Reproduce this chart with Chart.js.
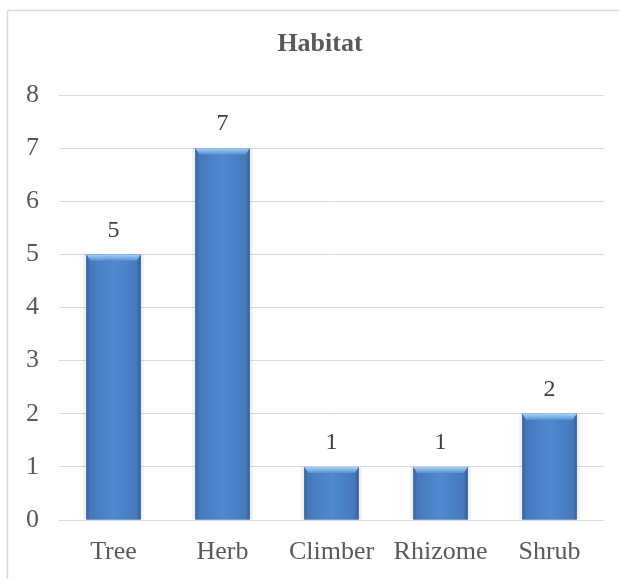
<!DOCTYPE html>
<html><head><meta charset="utf-8">
<script src="https://cdn.jsdelivr.net/npm/chart.js@4/dist/chart.umd.min.js"></script>
<style>
html,body{margin:0;padding:0;background:#fff;overflow:hidden}
#wrap{position:absolute;left:0;top:0;width:619px;height:579px}
</style></head>
<body>
<div id="wrap"><canvas id="c" width="619" height="579"></canvas></div>
<script>
const categories = ["Tree", "Herb", "Climber", "Rhizome", "Shrub"];
const counts = [5, 7, 1, 1, 2];
const yTicks = [0, 1, 2, 3, 4, 5, 6, 7, 8];
const chartTitle = "Habitat";

const FONT = "'Liberation Serif', 'Times New Roman', serif";

const frame = {
  id: 'frame',
  beforeDraw(chart) {
    const ctx = chart.ctx;
    ctx.save();
    ctx.strokeStyle = '#d9d9d9';
    ctx.lineWidth = 1.5;
    ctx.beginPath();
    ctx.moveTo(7.5, chart.height);
    ctx.lineTo(7.5, 10.5);
    ctx.lineTo(chart.width, 10.5);
    ctx.stroke();
    ctx.restore();
  },
  afterDraw(chart) {
    const ctx = chart.ctx;
    ctx.save();
    ctx.fillStyle = '#595959';
    ctx.font = 'bold 26px ' + FONT;
    ctx.textAlign = 'center';
    ctx.textBaseline = 'middle';
    ctx.fillText(chartTitle, 320, 44);
    ctx.restore();
  }
};

const barStyle = {
  id: 'barStyle',
  afterDatasetsDraw(chart) {
    const ctx = chart.ctx;
    const meta = chart.getDatasetMeta(0);
    ctx.save();
    meta.data.forEach((el, i) => {
      const p = el.getProps(['x', 'y', 'base', 'width'], true);
      const l = p.x - p.width / 2, r = p.x + p.width / 2, t = p.y, b = p.base;
      ctx.fillStyle = 'rgba(0,0,0,0.06)';
      ctx.fillRect(l - 3, t, 3, b - t);
      ctx.fillRect(r, t, 3, b - t);
      const g = ctx.createLinearGradient(l, 0, r, 0);
      g.addColorStop(0, '#3a66a3');
      g.addColorStop(0.08, '#4678ba');
      g.addColorStop(0.5, '#4e8ad2');
      g.addColorStop(0.92, '#4678ba');
      g.addColorStop(1, '#34609c');
      ctx.fillStyle = g;
      ctx.fillRect(l, t, r - l, b - t);
      const bv = Math.min(6, (b - t) / 4);
      const g2 = ctx.createLinearGradient(0, t, 0, t + bv);
      g2.addColorStop(0, '#a9d3f5');
      g2.addColorStop(1, '#5b95d6');
      ctx.fillStyle = g2;
      ctx.beginPath();
      ctx.moveTo(l, t); ctx.lineTo(r, t); ctx.lineTo(r - 4, t + bv); ctx.lineTo(l + 4, t + bv); ctx.closePath();
      ctx.fill();
      ctx.fillStyle = '#404040';
      ctx.font = '24px ' + FONT;
      ctx.textAlign = 'center';
      ctx.textBaseline = 'middle';
      ctx.fillText(String(counts[i]), p.x, t - 24);
    });
    ctx.restore();
  }
};

new Chart(document.getElementById('c'), {
  type: 'bar',
  data: {
    labels: categories,
    datasets: [{
      data: counts,
      backgroundColor: '#4a80c4',
      borderWidth: 0,
      barPercentage: 0.5,
      categoryPercentage: 1.0
    }]
  },
  options: {
    responsive: false,
    animation: false,
    devicePixelRatio: 1,
    layout: { padding: { left: 0, right: 15, top: 95, bottom: 0 } },
    plugins: {
      legend: { display: false },
      tooltip: { enabled: false },
      title: { display: false }
    },
    scales: {
      x: {
        grid: { display: false, drawTicks: false },
        border: { display: false },
        ticks: { color: '#595959', font: { family: FONT, size: 26 }, padding: 17 },
        afterFit(s) { s.height = 59; }
      },
      y: {
        min: 0, max: 8,
        afterBuildTicks(s) { s.ticks = yTicks.map(v => ({ value: v })); },
        grid: { color: '#d9d9d9', lineWidth: 1, drawTicks: false },
        border: { display: false },
        ticks: { color: '#595959', font: { family: FONT, size: 26 }, padding: 20 },
        afterFit(s) { s.width = 59; }
      }
    }
  },
  plugins: [frame, barStyle]
});
</script>
</body></html>
